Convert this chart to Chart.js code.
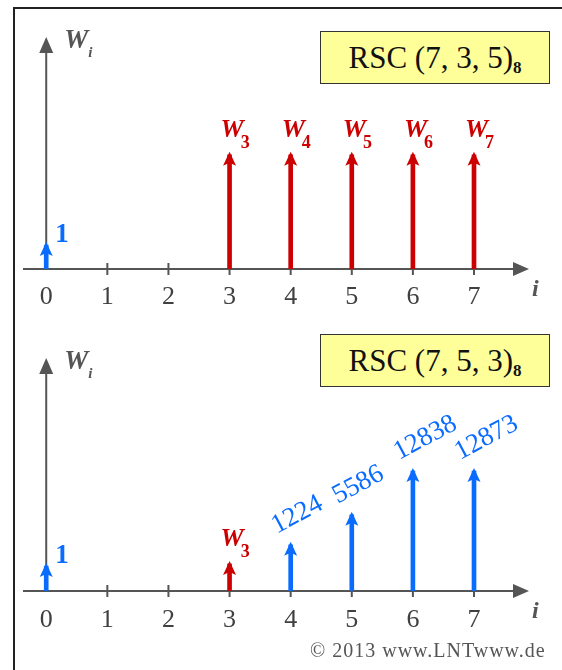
<!DOCTYPE html>
<html>
<head>
<meta charset="utf-8">
<script src="https://cdn.jsdelivr.net/npm/chart.js"></script>
<style>
body { margin: 0; width: 562px; height: 670px; position: relative; overflow: hidden; background: #fff; font-family: "Liberation Serif", serif; }
#frame { position: absolute; left: 13px; top: 7px; width: 600px; height: 700px; border-top: 2px solid #222; border-left: 2px solid #222; }
canvas { position: absolute; left: 0; }
#topChart { top: 0; }
#bottomChart { top: 320px; }
.codebox { position: absolute; left: 320px; width: 228px; height: 51px; border: 1.5px solid #333; background: #ffff99; font-size: 31px; text-align: center; line-height: 51px; color: #111; }
.codebox sub { font-size: 17px; font-weight: bold; vertical-align: -5px; }
#copy { position: absolute; left: 310px; top: 639px; font-size: 20px; letter-spacing: 1px; color: #555; }
</style>
</head>
<body>
<div id="frame"></div>
<canvas id="topChart" width="562" height="320"></canvas>
<canvas id="bottomChart" width="562" height="350"></canvas>
<div class="codebox" style="top:31px">RSC (7, 3, 5)<sub>8</sub></div>
<div class="codebox" style="top:334px">RSC (7, 5, 3)<sub>8</sub></div>
<div id="copy">&copy; 2013 www.LNTwww.de</div>
<script>
// index i on the x axis
const iTicks = [0, 1, 2, 3, 4, 5, 6, 7];

// RSC (7, 3, 5)_8 -- arrow heights as drawn (axis 0..10)
const topBlueI = [0];
const topBlueH = [1.03];
const topBlueText = ['1'];
const topRedI = [3, 4, 5, 6, 7];
const topRedH = [4.92, 4.92, 4.92, 4.92, 4.92];
const topRedSub = ['3', '4', '5', '6', '7'];

// RSC (7, 5, 3)_8
const botBlueI = [0, 4, 5, 6, 7];
const botBlueH = [1.07, 1.98, 3.27, 5.15, 5.15];
const botBlueText = ['1', '1224', '5586', '12838', '12873'];
const botRedI = [3];
const botRedH = [1.16];
const botRedSub = ['3'];

const BLUE = '#0a6cff';
const RED = '#cc0000';
const AXIS = '#555555';
const SERIF = '"Liberation Serif", "Times New Roman", serif';

function points(xs, hs) {
    return xs.map((x, k) => ({ x: x, y: hs[k] }));
}

const arrowPlugin = {
    id: 'arrows',
    beforeDatasetsDraw(chart) {
        const ctx = chart.ctx;
        const xs = chart.scales.x, ys = chart.scales.y;
        const y0 = ys.getPixelForValue(0), x0 = xs.getPixelForValue(0);
        const xEnd = xs.right, yTop = ys.top;
        ctx.save();
        ctx.strokeStyle = AXIS;
        ctx.fillStyle = AXIS;
        ctx.lineWidth = 2;
        ctx.beginPath();
        ctx.moveTo(xs.left, y0);
        ctx.lineTo(xEnd - 10, y0);
        ctx.moveTo(x0, y0);
        ctx.lineTo(x0, yTop + 10);
        iTicks.forEach(function (i) {
            if (i === 0) return;
            const px = xs.getPixelForValue(i);
            ctx.moveTo(px, y0 - 6);
            ctx.lineTo(px, y0 + 6);
        });
        ctx.stroke();
        // axis arrow heads
        ctx.beginPath();
        ctx.moveTo(xEnd, y0);
        ctx.lineTo(xEnd - 16, y0 - 7);
        ctx.lineTo(xEnd - 16, y0 + 7);
        ctx.closePath();
        ctx.moveTo(x0, yTop);
        ctx.lineTo(x0 - 7, yTop + 16);
        ctx.lineTo(x0 + 7, yTop + 16);
        ctx.closePath();
        ctx.fill();
        // axis names
        ctx.font = 'italic bold 24px ' + SERIF;
        ctx.textAlign = 'left';
        ctx.textBaseline = 'alphabetic';
        ctx.fillText('i', xEnd + 3, y0 + 27);
        ctx.font = 'italic bold 27px ' + SERIF;
        ctx.fillText('W', x0 + 18, yTop + 11);
        ctx.font = 'italic bold 15px ' + SERIF;
        ctx.fillText('i', x0 + 42, yTop + 20);
        ctx.restore();
    },
    afterDatasetsDraw(chart) {
        const ctx = chart.ctx;
        chart.data.datasets.forEach(function (ds, d) {
            const meta = chart.getDatasetMeta(d);
            meta.data.forEach(function (el, k) {
                const x = el.x, tip = el.y - 3;
                ctx.save();
                ctx.fillStyle = ds.backgroundColor;
                ctx.beginPath();
                ctx.moveTo(x, tip);
                ctx.lineTo(x + 6.5, tip + 14);
                ctx.lineTo(x, tip + 11);
                ctx.lineTo(x - 6.5, tip + 14);
                ctx.closePath();
                ctx.fill();
                const txt = ds.arrowText[k];
                if (ds.textKind === 'w') {
                    ctx.font = 'italic bold 26px ' + SERIF;
                    const wW = ctx.measureText('W').width;
                    ctx.fillText('W', x - 9, tip - 15);
                    ctx.font = 'bold 18px ' + SERIF;
                    ctx.fillText(txt, x - 9 + wW - 3, tip - 4);
                } else if (ds.data[k].x === 0) {
                    ctx.font = 'bold 27px ' + SERIF;
                    ctx.fillText(txt, x + 9, tip);
                } else {
                    // rotated weight numbers
                    ctx.translate(x - 14, tip - 8);
                    ctx.rotate(-28 * Math.PI / 180);
                    ctx.font = '27px ' + SERIF;
                    ctx.textAlign = 'left';
                    ctx.textBaseline = 'alphabetic';
                    ctx.fillText(txt, 0, 0);
                }
                ctx.restore();
            });
        });
    }
};

function makeChart(id, padTop, axisHeight, pad, datasets) {
    return new Chart(document.getElementById(id), {
        type: 'bar',
        data: { datasets: datasets },
        options: {
            responsive: false,
            animation: false,
            devicePixelRatio: 1,
            layout: { padding: { left: 23, right: 33, top: padTop, bottom: 0 } },
            plugins: { legend: { display: false }, tooltip: { enabled: false } },
            scales: {
                x: {
                    type: 'linear',
                    min: -0.38,
                    max: 7.9,
                    offset: false,
                    grid: { display: false, drawTicks: false },
                    border: { display: false },
                    afterBuildTicks: function (scale) {
                        scale.ticks = iTicks.map(v => ({ value: v }));
                    },
                    afterFit: function (scale) { scale.height = axisHeight; },
                    ticks: {
                        padding: pad,
                        color: '#404040',
                        font: { family: SERIF, size: 26 }
                    }
                },
                y: { display: false, min: 0, max: 10 }
            }
        },
        plugins: [arrowPlugin]
    });
}

function stems(xs, hs, color, text, kind) {
    return {
        data: points(xs, hs),
        backgroundColor: color,
        barThickness: 4,
        grouped: false,
        arrowText: text,
        textKind: kind
    };
}

makeChart('topChart', 37, 51, 13, [
    stems(topBlueI, topBlueH, BLUE, topBlueText, 'num'),
    stems(topRedI, topRedH, RED, topRedSub, 'w')
]);

makeChart('bottomChart', 38, 79, 14, [
    stems(botBlueI, botBlueH, BLUE, botBlueText, 'num'),
    stems(botRedI, botRedH, RED, botRedSub, 'w')
]);
</script>
</body>
</html>
